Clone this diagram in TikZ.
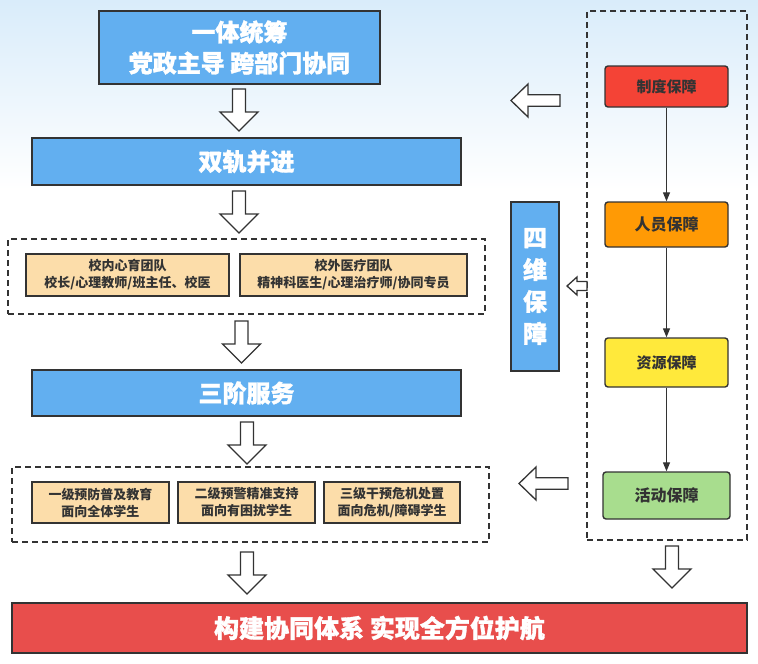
\documentclass[tikz,border=0pt]{standalone}
\usepackage{fontspec}
\setmainfont{Noto Sans CJK SC}
\newfontfamily\heavy{Noto Sans CJK SC}[BoldFeatures={FakeBold=1.2}]
\usetikzlibrary{arrows.meta}
\definecolor{bluebox}{HTML}{62AFF0}
\definecolor{peach}{HTML}{FCDDAA}
\definecolor{redR}{HTML}{F44336}
\definecolor{redB}{HTML}{E84E4C}
\definecolor{orangeR}{HTML}{FF9A05}
\definecolor{yellowR}{HTML}{FFE93B}
\definecolor{greenR}{HTML}{A8DD8E}
\definecolor{edge}{HTML}{333333}
\definecolor{bgtop}{HTML}{D9ECFA}
\tikzset{
  x=1pt, y=-1pt,
  bluebig/.style={draw=edge, line width=1.4pt, fill=bluebox, text=white, font=\heavy\fontsize{24}{31}\selectfont\bfseries, align=center, inner sep=0pt},
  peachbox/.style={draw=edge, line width=1.4pt, fill=peach, text=edge, font=\fontsize{13}{17}\selectfont\bfseries, align=center, inner sep=0pt},
  dashbox/.style={draw=edge, line width=1.4pt, dash pattern=on 6pt off 4pt, inner sep=0pt},
  rbox/.style={draw=edge, line width=1.4pt, rounded corners=3pt, text=edge, font=\fontsize{15}{18}\selectfont\bfseries, inner sep=0pt, minimum width=123pt},
  hollow/.style={draw=edge, line width=1.3pt, fill=white, line join=miter},
  conn/.style={draw=edge, line width=1.3pt, -{Triangle[length=9pt,width=7pt]}},
  dnarrow/.pic={\path[hollow] (-6.5,0) -- (6.5,0) -- (6.5,23) -- (19,23) -- (0,42) -- (-19,23) -- (-6.5,23) -- cycle;},
  lfarrow/.pic={\path[hollow] (0,0) -- (17,-16.5) -- (17,-5.8) -- (49,-5.8) -- (49,5.8) -- (17,5.8) -- (17,16.5) -- cycle;},
  smarrow/.pic={\path[hollow] (0,0) -- (10,-9) -- (10,-4.5) -- (20,-4.5) -- (20,4.5) -- (10,4.5) -- (10,9) -- cycle;},
}
\begin{document}
\begin{tikzpicture}
\useasboundingbox (0,0) rectangle (758,664);
\fill[white] (0,0) rectangle (758,664);
\shade[top color=bgtop, bottom color=white] (0,0) rectangle (758,190);

% left column
\node[bluebig, minimum width=281pt, minimum height=73pt] (top) at (239.5,47.5) {一体统筹\\党政主导 跨部门协同};
\node[bluebig, minimum width=429pt, minimum height=47pt] (dual) at (246.5,161.5) {双轨并进};
\node[dashbox, minimum width=477pt, minimum height=75pt] (team) at (246.5,276.5) {};
\node[peachbox, minimum width=203pt, minimum height=42pt] (inner) at (127.5,275) {校内心育团队\\校长/心理教师/班主任、校医};
\node[peachbox, minimum width=227pt, minimum height=42pt] (outer) at (353.5,275) {校外医疗团队\\精神科医生/心理治疗师/协同专员};
\node[bluebig, minimum width=429pt, minimum height=46pt] (three) at (246.5,393) {三阶服务};
\node[dashbox, minimum width=477pt, minimum height=75pt] (levels) at (250.5,504.5) {};
\node[peachbox, minimum width=137pt, minimum height=41pt] (l1) at (100.5,502.5) {一级预防普及教育\\面向全体学生};
\node[peachbox, minimum width=137pt, minimum height=41pt] (l2) at (246.5,502.5) {二级预警精准支持\\面向有困扰学生};
\node[peachbox, minimum width=136pt, minimum height=41pt] (l3) at (392,502.5) {三级干预危机处置\\面向危机/障碍学生};
\node[draw=edge, line width=1.4pt, fill=redB, text=white, font=\heavy\fontsize{25}{30}\selectfont\bfseries, inner sep=0pt, minimum width=735pt, minimum height=50pt] (goal) at (379.5,628) {构建协同体系 实现全方位护航};

% right column
\node[dashbox, minimum width=160pt, minimum height=529pt] (guard) at (667,275.5) {};
\node[rbox, fill=redR, minimum height=41pt] (r1) at (666.5,86.5) {制度保障};
\node[rbox, fill=orangeR, minimum height=45pt, font=\fontsize{16}{18}\selectfont\bfseries] (r2) at (666.5,224.5) {人员保障};
\node[rbox, fill=yellowR, minimum height=49pt] (r3) at (666.5,362.5) {资源保障};
\node[rbox, fill=greenR, minimum width=127pt, minimum height=47pt, font=\fontsize{16}{18}\selectfont\bfseries] (r4) at (666.5,495.5) {活动保障};
\draw[conn] (r1) -- (r2);
\draw[conn] (r2) -- (r3);
\draw[conn] (r3) -- (r4);

\node[bluebig, minimum width=48pt, minimum height=169pt, font=\heavy\fontsize{24}{32}\selectfont\bfseries] (four) at (535,286.5) {四\\维\\保\\障};

% block arrows
\pic at (239,89) {dnarrow};
\pic at (239,191) {dnarrow};
\pic at (241.5,321) {dnarrow};
\pic at (247,422) {dnarrow};
\pic at (247,552) {dnarrow};
\pic at (672,546) {dnarrow};
\pic at (511,100.5) {lfarrow};
\pic at (519,483.5) {lfarrow};
\pic at (567,286) {smarrow};
\end{tikzpicture}
\end{document}
